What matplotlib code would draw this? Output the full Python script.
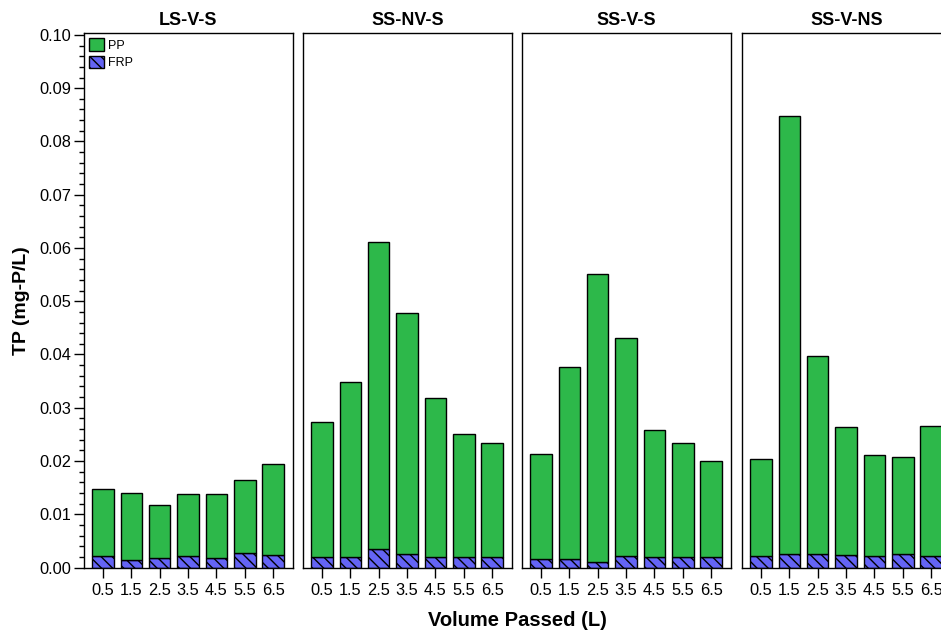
import matplotlib
matplotlib.use("Agg")
import matplotlib.pyplot as plt
from matplotlib.patches import Patch
from matplotlib.ticker import MultipleLocator, FormatStrFormatter
import numpy as np

plt.rcParams['font.family'] = ['Liberation Sans', 'DejaVu Sans']
plt.rcParams['hatch.linewidth'] = 1.0

# 数据
volume = [0.5, 1.5, 2.5, 3.5, 4.5, 5.5, 6.5]
panels = ["LS-V-S", "SS-NV-S", "SS-V-S", "SS-V-NS"]
# TP 总量 (柱顶)
tp_ls_v_s = [0.0147, 0.0140, 0.0117, 0.0138, 0.0138, 0.0164, 0.0194]
tp_ss_nv_s = [0.0273, 0.0348, 0.0611, 0.0478, 0.0318, 0.0251, 0.0234]
tp_ss_v_s = [0.0213, 0.0376, 0.0551, 0.0431, 0.0258, 0.0234, 0.0200]
tp_ss_v_ns = [0.0204, 0.0848, 0.0397, 0.0264, 0.0211, 0.0207, 0.0266]
# FRP
frp_ls_v_s = [0.0021, 0.0014, 0.0018, 0.0021, 0.0018, 0.0028, 0.0024]
frp_ss_nv_s = [0.0020, 0.0020, 0.0035, 0.0025, 0.0020, 0.0020, 0.0020]
frp_ss_v_s = [0.0016, 0.0016, 0.0011, 0.0022, 0.0019, 0.0019, 0.0019]
frp_ss_v_ns = [0.0021, 0.0025, 0.0026, 0.0024, 0.0021, 0.0026, 0.0021]

tp_all = [tp_ls_v_s, tp_ss_nv_s, tp_ss_v_s, tp_ss_v_ns]
frp_all = [frp_ls_v_s, frp_ss_nv_s, frp_ss_v_s, frp_ss_v_ns]

green = '#2db84a'
blue = '#6464f5'

W, H = 941, 632
fig = plt.figure(figsize=(W / 100, H / 100), dpi=100)

lefts = [84, 303, 522, 742]
pw = 209
bottom_px, top_px = 567.5, 33.3

for i, name in enumerate(panels):
    ax = fig.add_axes([lefts[i] / W, (H - bottom_px) / H, pw / W, (bottom_px - top_px) / H])
    tp = np.array(tp_all[i])
    frp = np.array(frp_all[i])
    pp = tp - frp
    ax.bar(volume, frp, width=0.76, color=blue, edgecolor='black', hatch='\\\\\\', linewidth=1)
    ax.bar(volume, pp, bottom=frp, width=0.76, color=green, edgecolor='black', linewidth=1)
    ax.set_xlim(-0.17, 7.2)
    ax.set_ylim(0, 0.1003)
    ax.set_xticks(volume)
    ax.set_xticklabels([str(v) for v in volume], fontsize=11.8)
    ax.tick_params(axis='x', direction='out', length=7, width=1, pad=4)
    ax.set_title(name, fontsize=13, fontweight='bold', pad=6)
    for s in ax.spines.values():
        s.set_linewidth(1)
    if i == 0:
        ax.yaxis.set_major_locator(MultipleLocator(0.01))
        ax.yaxis.set_minor_locator(MultipleLocator(0.002))
        ax.yaxis.set_major_formatter(FormatStrFormatter('%.2f'))
        ax.tick_params(axis='y', which='major', direction='out', length=7, width=1, labelsize=11.8, pad=2)
        ax.tick_params(axis='y', which='minor', direction='out', length=3.5, width=1)
        ax.set_ylabel('TP (mg-P/L)', fontsize=14, fontweight='bold', labelpad=7)
        handles = [Patch(facecolor=green, edgecolor='black', label='PP'),
                   Patch(facecolor=blue, edgecolor='black', hatch='\\\\\\', label='FRP')]
        ax.legend(handles=handles, loc='upper left', frameon=False, fontsize=9,
                  handlelength=1.2, handleheight=1.2, handletextpad=0.3,
                  labelspacing=0.3, borderaxespad=0.3, borderpad=0.1)
    else:
        ax.set_yticks([])

fig.text(517 / W, 1 - 620 / H, 'Volume Passed (L)', ha='center', va='center',
         fontsize=14.5, fontweight='bold')

fig.savefig('out.png', dpi=100)
